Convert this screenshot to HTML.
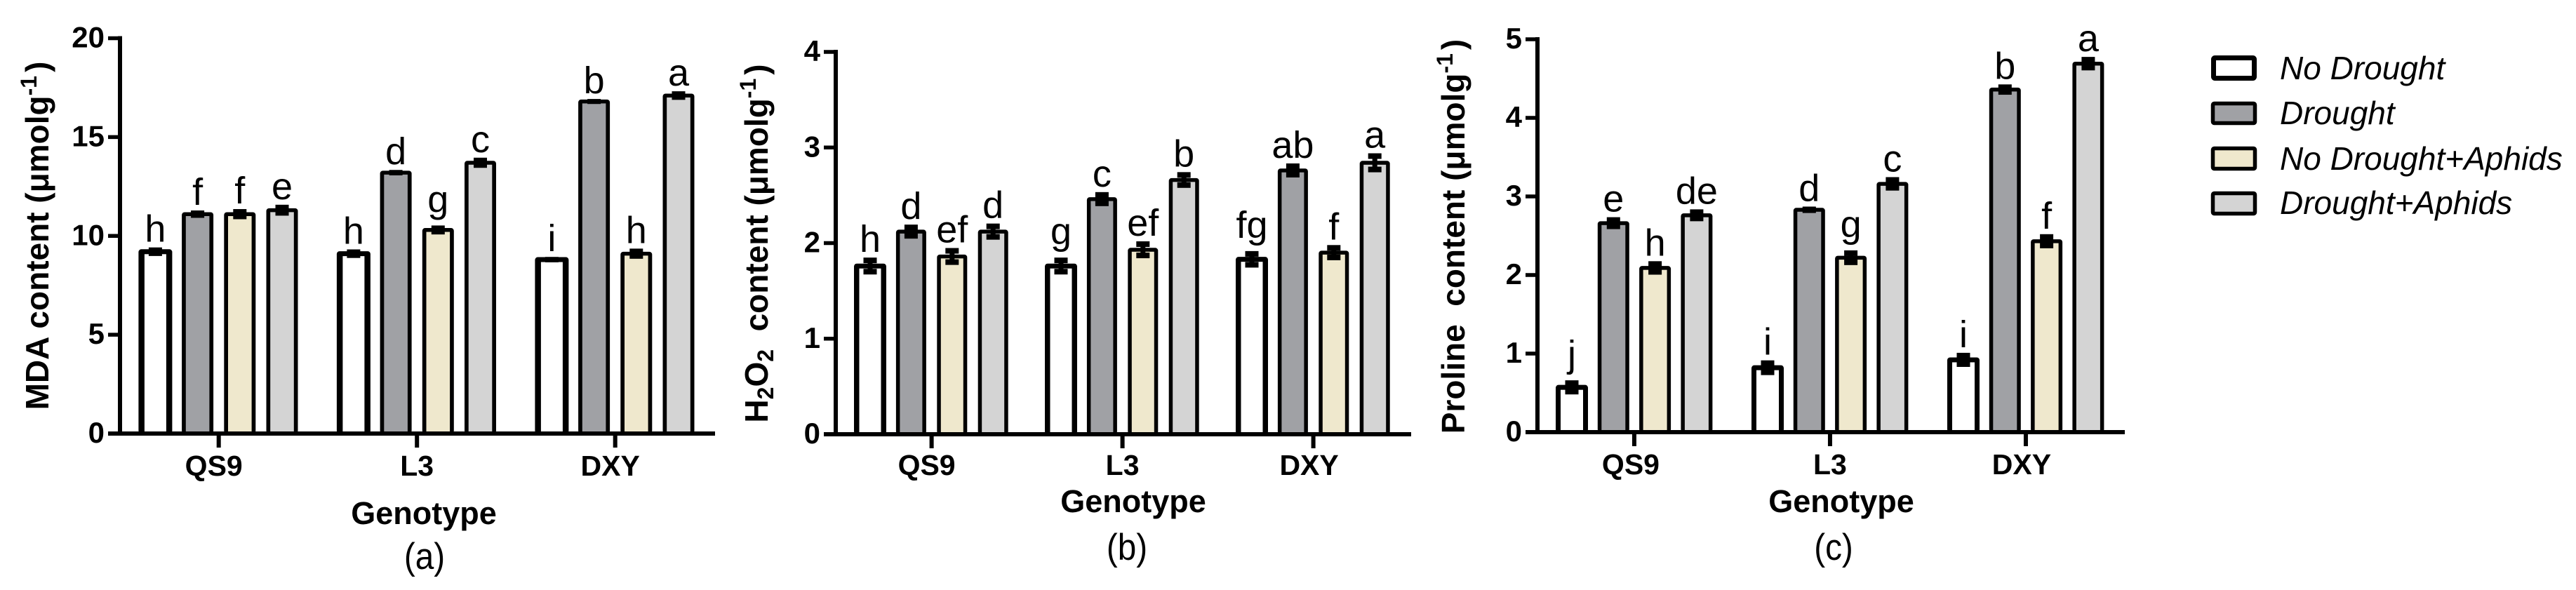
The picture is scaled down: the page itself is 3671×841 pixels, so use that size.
<!DOCTYPE html>
<html lang="en">
<head>
<meta charset="utf-8">
<title>MDA, H2O2 and proline content by genotype</title>
<style>
html,body{margin:0;padding:0;background:#fff;width:3671px;height:841px;overflow:hidden}
svg{display:block}
text{font-family:"Liberation Sans",sans-serif;fill:#000}
.b{font-weight:700}
</style>
</head>
<body>
<svg id="figure" xmlns="http://www.w3.org/2000/svg" width="3671" height="841" viewBox="0 0 3671 841">
  <rect x="0" y="0" width="3671" height="841" fill="#fff"/>

  <g id="panel-a"></g>
  <g id="panel-b"></g>
  <g id="panel-c"></g>

  <text class="b" font-size="46" text-anchor="middle" transform="translate(69,336) rotate(-90)">MDA content (μmolg<tspan font-size="32" dy="-17">-1</tspan><tspan dy="17" dx="5">)</tspan></text>
  <text class="b" font-size="46" text-anchor="middle" transform="translate(1094,347) rotate(-90)">H<tspan font-size="32" dy="8">2</tspan><tspan dy="-8">O</tspan><tspan font-size="32" dy="8">2</tspan><tspan dy="-8">&#160;&#160;content (μmolg</tspan><tspan font-size="32" dy="-17">-1</tspan><tspan dy="17" dx="5">)</tspan></text>
  <text class="b" font-size="46" text-anchor="middle" transform="translate(2087,337) rotate(-90)">Proline&#160;&#160;content (μmolg<tspan font-size="32" dy="-17">-1</tspan><tspan dy="17" dx="5">)</tspan></text>

  <text class="b" font-size="45" text-anchor="middle" x="604" y="747">Genotype</text>
  <text class="b" font-size="45" text-anchor="middle" x="1615" y="730">Genotype</text>
  <text class="b" font-size="45" text-anchor="middle" x="2624" y="730">Genotype</text>

  <text font-size="53" text-anchor="middle" transform="translate(605,811) scale(.9,1)">(a)</text>
  <text font-size="53" text-anchor="middle" transform="translate(1606,798) scale(.9,1)">(b)</text>
  <text font-size="53" text-anchor="middle" transform="translate(2613,798) scale(.9,1)">(c)</text>

  <g>
    <g>
      <rect x="3154.5" y="82.5" width="58" height="29" rx="2" fill="#fff" stroke="#000" stroke-width="7"/>
      <text font-size="46" font-style="italic" x="3249" y="113">No Drought</text>
    </g>
    <g>
      <rect x="3153.5" y="147.5" width="60" height="28" rx="2" fill="#a0a1a5" stroke="#000" stroke-width="5.5"/>
      <text font-size="46" font-style="italic" x="3249" y="177">Drought</text>
    </g>
    <g>
      <rect x="3153.5" y="211.5" width="60" height="29" rx="2" fill="#efe8cd" stroke="#000" stroke-width="5.5"/>
      <text font-size="46" font-style="italic" x="3249" y="242">No Drought+Aphids</text>
    </g>
    <g>
      <rect x="3153.5" y="275.5" width="60" height="29" rx="2" fill="#d4d4d4" stroke="#000" stroke-width="5.5"/>
      <text font-size="46" font-style="italic" x="3249" y="305">Drought+Aphids</text>
    </g>
  </g>
</svg>

<script>
// Shared categories and series
const genotypes = ['QS9', 'L3', 'DXY'];
const seriesNames = ['no-drought', 'drought', 'no-drought-aphids', 'drought-aphids'];

// Panel (a): MDA content, one row per genotype, one column per series
const mdaTicks = [0, 5, 10, 15, 20];
const mdaValues = [
  [9.2, 11.1, 11.1, 11.3],
  [9.1, 13.2, 10.3, 13.7],
  [8.8, 16.8, 9.1, 17.1]
];
const mdaErrors = [
  [0.11, 0.08, 0.15, 0.17],
  [0.11, 0.03, 0.12, 0.15],
  [0.03, 0.02, 0.15, 0.11]
];
const mdaLetters = [
  ['h', 'f', 'f', 'e'],
  ['h', 'd', 'g', 'c'],
  ['i', 'b', 'h', 'a']
];

// Panel (b): H2O2 content
const h2o2Ticks = [0, 1, 2, 3, 4];
const h2o2Values = [
  [1.76, 2.12, 1.86, 2.12],
  [1.76, 2.46, 1.93, 2.66],
  [1.83, 2.76, 1.9, 2.84]
];
const h2o2Errors = [
  [0.059, 0.044, 0.059, 0.055],
  [0.059, 0.044, 0.059, 0.053],
  [0.057, 0.044, 0.05, 0.07]
];
const h2o2Letters = [
  ['h', 'd', 'ef', 'd'],
  ['g', 'c', 'ef', 'b'],
  ['fg', 'ab', 'f', 'a']
];

// Panel (c): proline content
const prolineTicks = [0, 1, 2, 3, 4, 5];
const prolineValues = [
  [0.57, 2.66, 2.09, 2.76],
  [0.82, 2.83, 2.22, 3.16],
  [0.92, 4.36, 2.43, 4.69]
];
const prolineErrors = [
  [0.054, 0.04, 0.05, 0.04],
  [0.058, 0.005, 0.058, 0.05],
  [0.054, 0.03, 0.054, 0.05]
];
const prolineLetters = [
  ['j', 'e', 'h', 'de'],
  ['i', 'd', 'g', 'c'],
  ['i', 'b', 'f', 'a']
];

const fills = ['#ffffff', '#a0a1a5', '#efe8cd', '#d4d4d4'];
const NS = 'http://www.w3.org/2000/svg';

function make(parent, tag, name, attrs, txt) {
  const el = document.createElementNS(NS, tag);
  
  
  for (const k in attrs) el.setAttribute(k, attrs[k]);
  if (txt !== undefined) el.textContent = txt;
  parent.appendChild(el);
  return el;
}

function box(parent, name, x0, y0, x1, y1, fill, radius) {
  return make(parent, 'rect', name, {
    x: Math.min(x0, x1), y: Math.min(y0, y1),
    width: Math.abs(x1 - x0), height: Math.abs(y1 - y0), fill: fill, rx: radius || 0
  });
}

function drawPanel(layout, ticks, values, errors, letters) {
  const root = document.getElementById(layout.id);
  const yMax = ticks[ticks.length - 1];
  const yScale = v => layout.zeroY - (layout.zeroY - layout.topY) * v / yMax;
  const xScale = (g, s) => layout.x0 + g * layout.groupStep + s * layout.seriesStep;

  // bars, error bars, significance letters
  genotypes.forEach((genotype, g) => {
    seriesNames.forEach((series, s) => {
      const v = values[g][s];
      const e = errors[g][s];
      const cx = xScale(g, s);
      const w = s === 0 ? layout.whiteWidth : layout.barWidth;
      const side = s === 0 ? layout.whiteStroke : layout.barStroke;
      const topStroke = s === 0 ? 3.5 : 2.75;
      const top = yScale(v);
      const bar = make(root, 'g', 'bar-' + genotype.toLowerCase() + '-' + series, {});
      box(bar, 'bar-outline', cx - w / 2, top - topStroke, cx + w / 2, layout.zeroY, '#000', 4);
      box(bar, 'bar-fill', cx - w / 2 + side, top + topStroke, cx + w / 2 - side, layout.zeroY, fills[s]);

      const hi = yScale(v + e);
      const lo = yScale(v - e);
      const halfCap = layout.capHeight / 2;
      const err = make(root, 'g', 'error-bar-' + genotype.toLowerCase() + '-' + series, {});
      box(err, 'error-stem', cx - 3.5, hi, cx + 3.5, lo, '#000');
      box(err, 'error-cap-top', cx - 9.5, hi - halfCap, cx + 9.5, hi + halfCap, '#000');
      box(err, 'error-cap-bottom', cx - 9.5, lo - halfCap, cx + 9.5, lo + halfCap, '#000');

      const descent = /[gj]/.test(letters[g][s]) ? 11 : 0;
      make(root, 'text', 'significance-letter', {
        x: cx, y: hi - halfCap - layout.letterGap - descent, 'font-size': 54, 'text-anchor': 'middle'
      }, letters[g][s]);
    });
  });

  // y axis
  const yAxis = make(root, 'g', 'y-axis', {});
  box(yAxis, 'y-axis-line', layout.axisX - 3, layout.topY - 3, layout.axisX + 3, layout.zeroY + 3, '#000');
  ticks.forEach(t => {
    const y = yScale(t);
    box(yAxis, 'y-tick', layout.axisX - 17, y - 2.75, layout.axisX, y + 2.75, '#000');
    make(yAxis, 'text', 'y-tick-label', {
      x: layout.axisX - 22, y: y + 13, 'font-size': 42, 'font-weight': 700, 'text-anchor': 'end'
    }, String(t));
  });

  // x axis
  const xAxis = make(root, 'g', 'x-axis', {});
  box(xAxis, 'x-axis-line', layout.axisX - 17, layout.zeroY - 3, layout.axisEnd, layout.zeroY + 3, '#000');
  genotypes.forEach((genotype, g) => {
    const tx = (xScale(g, 0) + xScale(g, 3)) / 2;
    box(xAxis, 'x-tick', tx - 3, layout.zeroY, tx + 3, layout.zeroY + 20, '#000');
    make(xAxis, 'text', 'x-tick-label', {
      x: tx + layout.labelShift[g], y: layout.labelY, 'font-size': 41, 'font-weight': 700, 'text-anchor': 'middle'
    }, genotype);
  });
}

drawPanel({
  id: 'panel-a', axisX: 171, axisEnd: 1019, topY: 54.5, zeroY: 618,
  x0: 221.4, seriesStep: 60.2, groupStep: 282.5,
  whiteWidth: 48, barWidth: 45, whiteStroke: 8.5, barStroke: 5.7,
  capHeight: 6, letterGap: 8, labelY: 678, labelShift: [-7, 0, -7]
}, mdaTicks, mdaValues, mdaErrors, mdaLetters);

drawPanel({
  id: 'panel-b', axisX: 1191, axisEnd: 2011, topY: 74, zeroY: 619,
  x0: 1240, seriesStep: 58.4, groupStep: 272,
  whiteWidth: 46, barWidth: 43, whiteStroke: 7.5, barStroke: 5.5,
  capHeight: 8, letterGap: 8, labelY: 677, labelShift: [-7, 0, -6]
}, h2o2Ticks, h2o2Values, h2o2Errors, h2o2Letters);

drawPanel({
  id: 'panel-c', axisX: 2191, axisEnd: 3028, topY: 56, zeroY: 616,
  x0: 2240, seriesStep: 59.3, groupStep: 279,
  whiteWidth: 46, barWidth: 45, whiteStroke: 7, barStroke: 5.5,
  capHeight: 8, letterGap: 8, labelY: 676, labelShift: [-5, 0, -6]
}, prolineTicks, prolineValues, prolineErrors, prolineLetters);
</script>
</body>
</html>
